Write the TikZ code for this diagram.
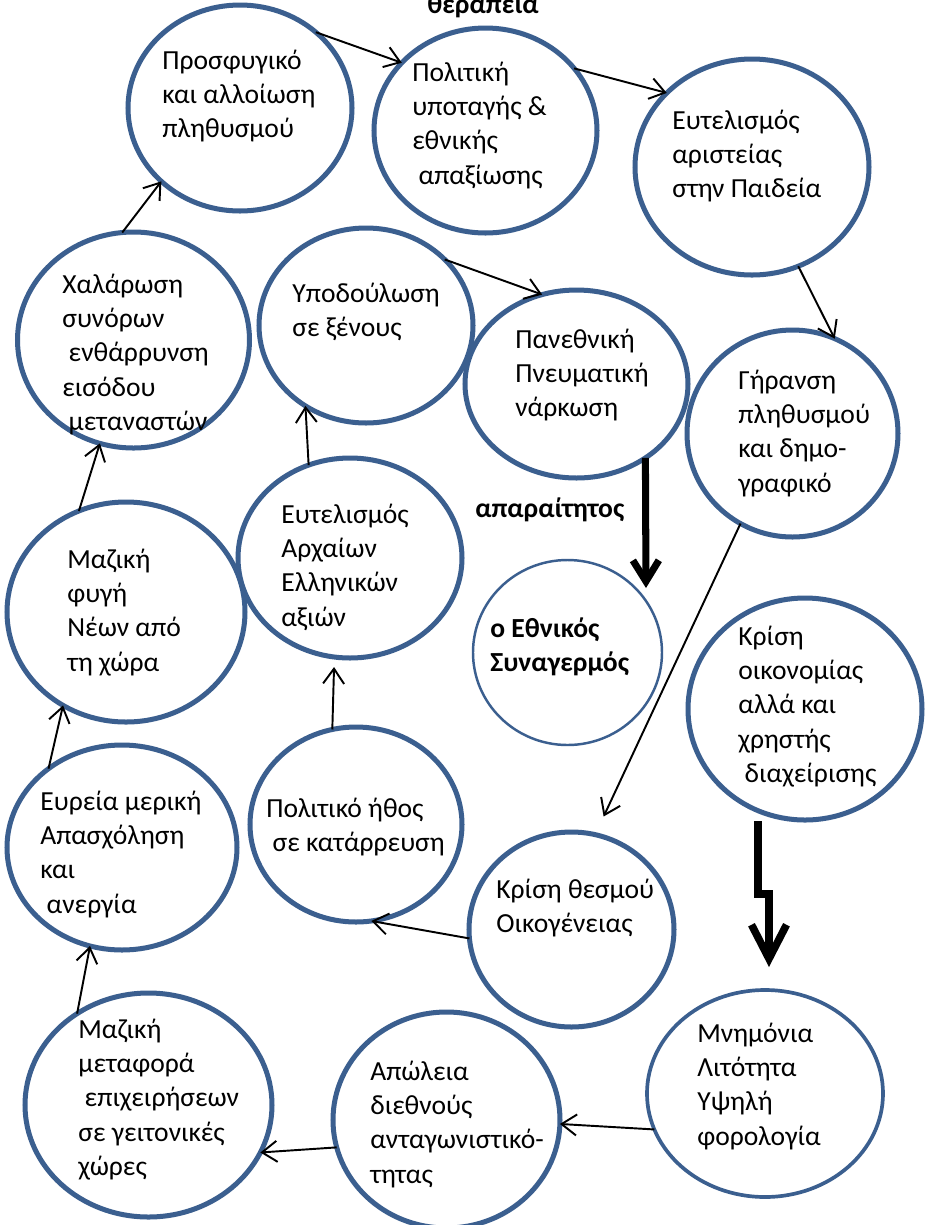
\documentclass[tikz,border=0pt]{standalone}
\usepackage{fontspec}
\setmainfont{Carlito}
\usetikzlibrary{shapes.geometric,arrows.meta}
\definecolor{bubbleblue}{RGB}{59,95,143}
\newcommand{\indsp}{\hspace*{0.23em}}
\newcommand{\stack}[1]{\begin{tabular}[t]{@{}l@{}}#1\end{tabular}}

\begin{document}
\begin{tikzpicture}[x=0.02cm, y=-0.02cm,
    bubble/.style 2 args={ellipse, draw=bubbleblue, line width=2.85pt, inner sep=0pt, outer sep=0pt,
        minimum width=#1*0.02cm, minimum height=#2*0.02cm},
    txt/.style={anchor=base west, inner sep=0pt, font=\fontsize{15.7}{19.6}\selectfont},
    link/.style={black, line width=1.1pt, -{Straight Barb[length=0.3cm,width=0.42cm]}},
    bigarrow/.style={black, line width=4pt, -{Straight Barb[length=0.42cm,width=0.52cm]}}]
    \fill[white] (0,0) rectangle (929,1225);
    \useasboundingbox (0,0) rectangle (929,1225);

    % Bubbles
    \node[bubble={224}{206}] (refug) at (240,108) {};
    \node[bubble={223}{205}] (polit) at (485.5,130.5) {};
    \node[bubble={234}{216}] (arist) at (752,167) {};
    \node[bubble={232}{216}] (xalar) at (133.5,340) {};
    \node[bubble={214}{195}] (ypod) at (366,325.5) {};
    \node[bubble={223}{188}] (panet) at (576.5,384) {};
    \node[bubble={211}{207}] (giran) at (792.5,433.5) {};
    \node[bubble={238}{220}] (fygi) at (126,612) {};
    \node[bubble={224}{200}] (arxaia) at (350,558) {};
    \node[bubble={189}{185}, line width=1.4pt] (synag) at (567.5,652.5) {};
    \node[bubble={234}{222}] (oikon) at (805,709) {};
    \node[bubble={230}{205}] (anerg) at (122,847.5) {};
    \node[bubble={212}{195}] (ithos) at (356,824.5) {};
    \node[bubble={205}{195}] (oikog) at (571.5,929.5) {};
    \node[bubble={247}{224}] (metaf) at (148.5,1105) {};
    \node[bubble={227}{216}] (apol) at (446.5,1120) {};
    \node[bubble={236}{207}, line width=2.1pt] (mnim) at (765,1093.5) {};

    % Texts
    \node[txt] (refug-t) at (162,69) {\stack{Προσφυγικό\\και αλλοίωση\\πληθυσμού}};
    \node[txt] (polit-t) at (412,81) {\stack{Πολιτική\\υποταγής \&\\εθνικής\\\indsp απαξίωσης}};
    \node[txt] (arist-t) at (672,129) {\stack{Ευτελισμός\\αριστείας\\στην Παιδεία}};
    \node[txt] (xalar-t) at (62,293) {\stack{Χαλάρωση\\συνόρων\\\indsp ενθάρρυνση\\εισόδου\\\indsp μεταναστών}};
    \node[txt] (ypod-t) at (292,302) {\stack{Υποδούλωση\\σε ξένους}};
    \node[txt] (panet-t) at (515,348) {\stack{Πανεθνική\\Πνευματική\\νάρκωση}};
    \node[txt] (giran-t) at (738,389) {\stack{Γήρανση\\πληθυσμού\\και δημο-\\γραφικό}};
    \node[txt] (fygi-t) at (67,568) {\stack{Μαζική\\φυγή\\Νέων από\\τη χώρα}};
    \node[txt] (arxaia-t) at (281,523) {\stack{Ευτελισμός\\Αρχαίων\\Ελληνικών\\αξιών}};
    \node[txt, font=\fontsize{15.7}{19.6}\selectfont\bfseries] (synag-t) at (490,637) {\stack{ο Εθνικός\\Συναγερμός}};
    \node[txt] (oikon-t) at (738,645) {\stack{Κρίση\\οικονομίας\\αλλά και\\χρηστής\\\indsp διαχείρισης}};
    \node[txt] (anerg-t) at (40,810) {\stack{Ευρεία μερική\\Απασχόληση\\και\\\indsp ανεργία}};
    \node[txt] (ithos-t) at (266,817) {\stack{Πολιτικό ήθος\\\indsp σε κατάρρευση}};
    \node[txt] (oikog-t) at (496,898) {\stack{Κρίση θεσμού\\Οικογένειας}};
    \node[txt] (metaf-t) at (78,1038) {\stack{Μαζική\\μεταφορά\\\indsp επιχειρήσεων\\σε γειτονικές\\χώρες}};
    \node[txt] (apol-t) at (370,1080) {\stack{Απώλεια\\διεθνούς\\ανταγωνιστικό-\\τητας}};
    \node[txt] (mnim-t) at (697,1042) {\stack{Μνημόνια\\Λιτότητα\\Υψηλή\\φορολογία}};
    \node[txt, anchor=base, font=\fontsize{15.7}{19.6}\selectfont\bfseries] (therap) at (483,13) {θεραπεία};
    \node[txt, font=\fontsize{15.7}{19.6}\selectfont\bfseries] (apar) at (475,517) {απαραίτητος};

    % Connectors
    \draw[link] (refug.45) -- (polit.141);
    \draw[link] (polit.35) -- (arist.139);
    \draw[link] (arist.295) -- (giran.66);
    \draw[link] (ypod.40) -- (panet.111);
    \draw[link] (xalar.96) -- (refug.223);
    \draw[link] (fygi.115) -- (xalar.252);
    \draw[link] (arxaia.114) -- (ypod.233);
    \draw[link] (anerg.133) -- (fygi.236);
    \draw[link, shorten >=0.2cm] (ithos.104) -- (arxaia.261);
    \draw[link] (metaf.128) -- (anerg.252);
    \draw[link] (oikog.185) -- (ithos.279);
    \draw[link, shorten >=0.4cm] (giran.240) -- (oikog.76);
    \draw[link] (mnim.198) -- (apol.358);
    \draw[link] (apol.194) -- (metaf.337);

    % Thick arrows
    \coordinate (synag-in) at (646,588);
    \draw[bigarrow] (panet.313) -- (synag-in);
    \draw[bigarrow, line width=4.3pt, -{Straight Barb[length=0.68cm,width=0.7cm]}]
        (oikon.south) ++(-47,1) -- ++(0,73) -- ++(11,0) -- ++(0,73);
\end{tikzpicture}
\end{document}
